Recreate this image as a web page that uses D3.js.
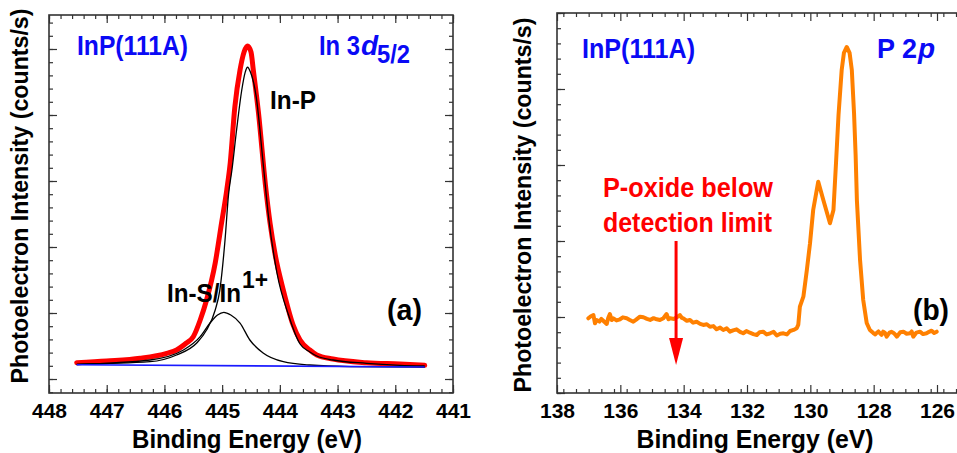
<!DOCTYPE html>
<html>
<head>
<meta charset="utf-8">
<script src="https://cdn.jsdelivr.net/npm/d3@7"></script>
<style>
  html, body { margin: 0; padding: 0; background: #fff; }
  svg { display: block; font-family: "Liberation Sans", Arial, sans-serif; font-weight: bold; }
</style>
</head>
<body>
<svg id="chart" width="957" height="453"></svg>
<script>
// ---- panel (a): In 3d5/2 fit, binding energy (eV) vs intensity (arb.) ----
const aTicksX = [448, 447, 446, 445, 444, 443, 442, 441];
const aTicksY = [0, 1, 2, 3, 4, 5];

const aEnvelope = [
  [447.52, 0.247], [447.00, 0.273], [446.42, 0.314], [445.96, 0.389], [445.79, 0.439],
  [445.62, 0.545], [445.50, 0.641], [445.38, 0.894], [445.27, 1.197], [445.12, 1.758],
  [445.01, 2.364], [444.92, 2.864], [444.86, 3.273], [444.78, 4.121], [444.69, 4.682],
  [444.62, 4.955], [444.56, 5.045], [444.50, 4.955], [444.46, 4.682], [444.37, 4.030],
  [444.25, 2.940], [444.17, 2.364], [444.08, 1.879], [443.94, 1.348], [443.77, 0.818],
  [443.65, 0.591], [443.48, 0.439], [443.36, 0.364], [443.08, 0.303], [442.50, 0.247],
  [441.92, 0.227], [441.49, 0.208]
];
const aInP = [
  [447.52, 0.223], [446.25, 0.262], [445.79, 0.364], [445.44, 0.545], [445.27, 0.742],
  [445.12, 1.045], [445.04, 1.348], [444.95, 2.106], [444.89, 2.790], [444.83, 3.170],
  [444.75, 3.773], [444.66, 4.379], [444.60, 4.650], [444.56, 4.723], [444.51, 4.650],
  [444.41, 4.277], [444.29, 3.273], [444.20, 2.485], [444.05, 1.606], [443.85, 0.970],
  [443.65, 0.530], [443.48, 0.409], [443.36, 0.348], [443.08, 0.288], [442.50, 0.238],
  [441.92, 0.208], [441.49, 0.197]
];
const aInS = [
  [447.52, 0.220], [446.25, 0.288], [445.67, 0.439], [445.38, 0.641], [445.21, 0.848],
  [445.08, 0.970], [444.97, 1.011], [444.85, 0.970], [444.69, 0.848], [444.52, 0.591],
  [444.29, 0.394], [443.94, 0.262], [443.48, 0.212], [442.78, 0.189], [441.49, 0.182]
];
const aBackground = [[447.52, 0.217], [441.49, 0.182]];

// ---- panel (b): P 2p spectrum ----
const bTicksX = [138, 136, 134, 132, 130, 128, 126];
const bTicksY = [0, 1, 2, 3, 4, 5];
const bSpectrum = [
  [137.01, 0.983], [136.93, 1.010], [136.85, 1.026], [136.80, 0.917], [136.75, 0.961],
  [136.66, 0.940], [136.60, 0.975], [136.54, 0.951], [136.43, 0.908], [136.38, 0.990],
  [136.33, 1.039], [136.27, 0.960], [136.22, 0.983], [136.12, 0.955], [136.01, 0.970],
  [135.92, 0.995], [135.80, 0.983], [135.70, 0.960], [135.59, 0.938], [135.50, 0.965],
  [135.38, 1.004], [135.27, 0.996], [135.16, 0.975], [135.06, 0.961], [134.95, 0.985],
  [134.85, 0.970], [134.75, 0.960], [134.64, 0.983], [134.54, 1.039], [134.48, 0.970],
  [134.43, 0.983], [134.30, 0.975], [134.22, 0.996], [134.12, 1.026], [134.06, 0.990],
  [134.01, 0.983], [133.90, 0.950], [133.80, 0.961], [133.70, 0.925], [133.59, 0.938],
  [133.48, 0.910], [133.38, 0.895], [133.27, 0.905], [133.17, 0.872], [133.06, 0.880],
  [132.96, 0.838], [132.85, 0.860], [132.75, 0.829], [132.64, 0.850], [132.54, 0.807],
  [132.44, 0.825], [132.33, 0.838], [132.22, 0.805], [132.12, 0.786], [132.02, 0.815],
  [131.91, 0.793], [131.80, 0.775], [131.69, 0.763], [131.60, 0.800], [131.49, 0.807],
  [131.38, 0.770], [131.27, 0.786], [131.16, 0.805], [131.06, 0.757], [130.95, 0.780],
  [130.85, 0.786], [130.74, 0.770], [130.64, 0.816], [130.53, 0.830], [130.43, 0.851],
  [130.38, 0.900], [130.33, 1.136], [130.22, 1.267], [130.11, 1.618], [130.01, 1.970],
  [129.91, 2.408], [129.75, 2.780], [129.59, 2.539], [129.38, 2.233], [129.27, 2.408],
  [129.19, 3.022], [129.11, 3.658], [129.01, 4.250], [128.94, 4.474], [128.85, 4.553],
  [128.76, 4.474], [128.69, 4.250], [128.62, 3.684], [128.57, 3.132], [128.53, 2.539],
  [128.43, 1.750], [128.33, 1.224], [128.22, 0.921], [128.12, 0.829], [128.01, 0.789],
  [127.95, 0.770], [127.90, 0.793], [127.85, 0.810], [127.80, 0.786], [127.75, 0.765],
  [127.70, 0.807], [127.64, 0.790], [127.59, 0.741], [127.50, 0.795], [127.44, 0.805],
  [127.38, 0.793], [127.32, 0.770], [127.27, 0.741], [127.16, 0.800], [127.06, 0.807],
  [126.96, 0.780], [126.85, 0.786], [126.80, 0.810], [126.75, 0.741], [126.65, 0.795],
  [126.54, 0.807], [126.44, 0.775], [126.33, 0.786], [126.25, 0.805], [126.17, 0.820],
  [126.09, 0.790], [126.01, 0.807]
];
const bArrow = { x: 134.24, from: 2.0, to: 0.37 };

const BLUE = '#0a0af5', RED = '#ff0000', ORANGE = '#ff8000', FRAME = '#333';
const svg = d3.select('#chart');

function minorTicks(lo, hi, step) {
  const out = [];
  for (let v = lo; v <= hi + 1e-9; v += step) out.push(+v.toFixed(4));
  return out;
}

function drawFrame(g, x, y, opt) {
  const [x0, x1] = x.range(), [y0, y1] = y.range();
  // bottom axis with labels (ticks point inward)
  g.append('g').attr('transform', `translate(0,${y0})`)
    .call(d3.axisBottom(x).tickValues(opt.minorX).tickSize(-4).tickFormat(''));
  g.append('g').attr('transform', `translate(0,${y0})`)
    .call(d3.axisBottom(x).tickValues(opt.ticksX).tickSize(-8).tickPadding(10).tickFormat(d3.format('d')))
    .call(a => a.selectAll('text').attr('font-size', 21).attr('fill', '#000')
      .attr('font-family', '"Liberation Sans", Arial, sans-serif').attr('font-weight', 'bold'));
  g.append('g').attr('transform', `translate(0,${y1})`)
    .call(d3.axisTop(x).tickValues(opt.minorX).tickSize(-4).tickFormat(''));
  g.append('g').attr('transform', `translate(0,${y1})`)
    .call(d3.axisTop(x).tickValues(opt.ticksX).tickSize(-8).tickFormat(''));
  g.append('g').attr('transform', `translate(${x0},0)`)
    .call(d3.axisLeft(y).tickValues(opt.minorY).tickSize(-4).tickFormat(''));
  g.append('g').attr('transform', `translate(${x0},0)`)
    .call(d3.axisLeft(y).tickValues(opt.ticksY).tickSize(-8).tickFormat(''));
  if (opt.rightTicks) {
    g.append('g').attr('transform', `translate(${x1},0)`)
      .call(d3.axisRight(y).tickValues(opt.minorY).tickSize(-4).tickFormat(''));
    g.append('g').attr('transform', `translate(${x1},0)`)
      .call(d3.axisRight(y).tickValues(opt.ticksY).tickSize(-8).tickFormat(''));
  }
  g.selectAll('.domain').remove();
  g.selectAll('.tick line').attr('stroke', FRAME).attr('stroke-width', 1.2);
  g.append('rect')
    .attr('x', x0).attr('y', y1).attr('width', x1 - x0).attr('height', y0 - y1)
    .attr('fill', 'none').attr('stroke', FRAME).attr('stroke-width', 1.6);
}

function label(g, txt, x, y, size, color, len, anchor) {
  const t = g.append('text').attr('x', x).attr('y', y).attr('font-size', size)
    .attr('fill', color).attr('text-anchor', anchor || 'start').text(txt);
  if (len) t.attr('textLength', len).attr('lengthAdjust', 'spacingAndGlyphs');
  return t;
}

// ================= panel (a) =================
const ga = svg.append('g');
const xa = d3.scaleLinear().domain([448, 441]).range([49, 453]);
const ya = d3.scaleLinear().domain([-0.212, 5.515]).range([393, 15]);
const lineA = d3.line().x(d => xa(d[0])).y(d => ya(d[1])).curve(d3.curveMonotoneX);

drawFrame(ga, xa, ya, {
  ticksX: aTicksX, minorX: minorTicks(441, 448, 0.2),
  ticksY: aTicksY, minorY: minorTicks(-0.2, 5.4, 0.2), rightTicks: true
});

ga.append('path').datum(aEnvelope).attr('d', lineA)
  .attr('fill', 'none').attr('stroke', RED).attr('stroke-width', 5).attr('stroke-linejoin', 'round')
  .attr('stroke-linecap', 'round');
ga.append('path').datum(aInP).attr('d', lineA)
  .attr('fill', 'none').attr('stroke', '#000').attr('stroke-width', 1.3);
ga.append('path').datum(aInS).attr('d', lineA)
  .attr('fill', 'none').attr('stroke', '#000').attr('stroke-width', 1.3);
ga.append('path').datum(aBackground).attr('d', lineA)
  .attr('fill', 'none').attr('stroke', '#1a1aff').attr('stroke-width', 1.6);

label(ga, 'InP(111A)', 77, 55, 28, BLUE, 111);
label(ga, 'In 3', 319, 55, 28, BLUE, 41);
label(ga, 'd', 361, 55, 28, BLUE).attr('font-style', 'italic');
label(ga, '5/2', 377, 63, 26, BLUE, 33);
label(ga, 'In-P', 270, 109, 26, '#000', 46);
label(ga, 'In-S/In', 167, 302, 26, '#000', 74);
label(ga, '1+', 242, 288, 24, '#000', 26);
label(ga, '(a)', 387, 320, 30, '#000', 35);

label(ga, 'Binding Energy (eV)', 247, 448, 26, '#000', 230, 'middle');
ga.append('text')
  .attr('transform', 'translate(28,196) rotate(-90)')
  .attr('text-anchor', 'middle').attr('font-size', 23).attr('fill', '#000')
  .attr('textLength', 375).attr('lengthAdjust', 'spacingAndGlyphs')
  .text('Photoelectron Intensity (counts/s)');

// ================= panel (b) =================
const gb = svg.append('g');
const xb = d3.scaleLinear().domain([138, 125]).range([557, 557 + 13 * 31.667]);
const yb = d3.scaleLinear().domain([0, 5]).range([393, 13]);
const lineB = d3.line().x(d => xb(d[0])).y(d => yb(d[1]));

drawFrame(gb, xb, yb, {
  ticksX: bTicksX, minorX: minorTicks(125, 138, 0.4),
  ticksY: bTicksY, minorY: minorTicks(0, 5, 0.2), rightTicks: false
});

gb.append('path').datum(bSpectrum).attr('d', lineB)
  .attr('fill', 'none').attr('stroke', ORANGE).attr('stroke-width', 4)
  .attr('stroke-linejoin', 'round').attr('stroke-linecap', 'round');

// arrow
const ax = xb(bArrow.x), ayTop = yb(bArrow.from), ayTip = yb(bArrow.to);
gb.append('line').attr('x1', ax).attr('x2', ax).attr('y1', ayTop).attr('y2', ayTip - 20)
  .attr('stroke', RED).attr('stroke-width', 3);
gb.append('path')
  .attr('d', `M${ax - 7},${ayTip - 27} L${ax + 7},${ayTip - 27} L${ax},${ayTip} Z`)
  .attr('fill', RED);

label(gb, 'InP(111A)', 582, 58, 28, BLUE, 113);
label(gb, 'P 2', 877, 58, 28, BLUE, 40);
label(gb, 'p', 918, 58, 28, BLUE).attr('font-style', 'italic');
label(gb, 'P-oxide below', 603, 197, 27, RED, 170);
label(gb, 'detection limit', 603, 232, 27, RED, 169);
label(gb, '(b)', 913, 320, 30, '#000', 36);

label(gb, 'Binding Energy (eV)', 755, 448, 26, '#000', 237, 'middle');
gb.append('text')
  .attr('transform', 'translate(531,205) rotate(-90)')
  .attr('text-anchor', 'middle').attr('font-size', 23).attr('fill', '#000')
  .attr('textLength', 375).attr('lengthAdjust', 'spacingAndGlyphs')
  .text('Photoelectron Intensity (counts/s)');
</script>
</body>
</html>
